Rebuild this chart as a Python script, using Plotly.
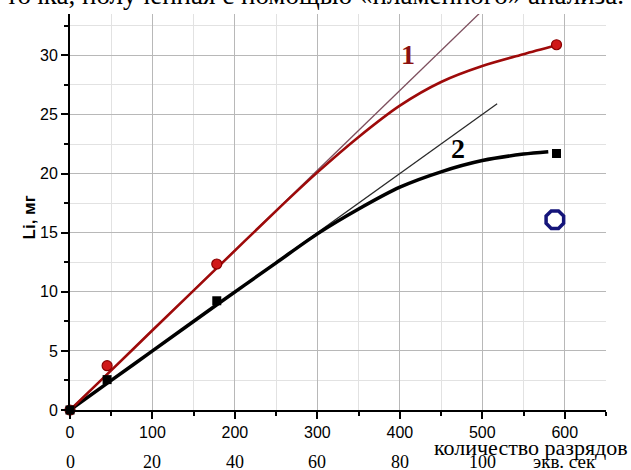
import plotly.graph_objects as go

# measured points
pts_x = [0, 45, 178, 590]
li_1 = [0, 3.75, 12.35, 30.9]
li_2 = [0, 2.57, 9.24, 21.7]

# smooth calibration curves
curve_x1 = [0, 50, 100, 178, 250, 300, 350, 400, 450, 500, 550, 590]
curve_y1 = [0, 3.35, 6.75, 12.0, 16.85, 20.1, 23.1, 25.75, 27.75, 29.1, 30.1, 30.85]
curve_x2 = [0, 50, 100, 178, 250, 300, 350, 400, 450, 500, 550, 580]
curve_y2 = [0, 2.5, 5.0, 8.9, 12.45, 14.9, 17.0, 18.85, 20.15, 21.1, 21.65, 21.85]

# initial-slope tangents
tan1_x = [0, 512]
tan1_y = [0, 34.6]
tan2_x = [0, 518]
tan2_y = [0, 25.9]

# extra point
extra_x = [588]
extra_y = [16.1]

x_ticks = [0, 100, 200, 300, 400, 500, 600]
y_ticks = [0, 5, 10, 15, 20, 25, 30]
sec_vals = [0, 20, 40, 60, 80, 100]
sec_pos = [0, 100, 200, 300, 400, 500]

fig = go.Figure()
fig.add_trace(go.Scatter(x=tan1_x, y=tan1_y, mode="lines",
                         line=dict(color="#7d4f5e", width=1.3), hoverinfo="skip"))
fig.add_trace(go.Scatter(x=tan2_x, y=tan2_y, mode="lines",
                         line=dict(color="#2a2a2a", width=1.3), hoverinfo="skip"))
fig.add_trace(go.Scatter(x=curve_x2, y=curve_y2, mode="lines",
                         line=dict(color="black", width=3.5, shape="spline", smoothing=0.8)))
fig.add_trace(go.Scatter(x=curve_x1, y=curve_y1, mode="lines",
                         line=dict(color="#9e0a0a", width=2.6, shape="spline", smoothing=0.8)))
fig.add_trace(go.Scatter(x=pts_x, y=li_1, mode="markers", cliponaxis=False,
                         marker=dict(symbol="circle", size=10, color="#d01818",
                                     line=dict(color="#8a0000", width=1.2))))
fig.add_trace(go.Scatter(x=pts_x, y=li_2, mode="markers", cliponaxis=False,
                         marker=dict(symbol="square", size=9, color="black")))
fig.add_trace(go.Scatter(x=extra_x, y=extra_y, mode="markers", cliponaxis=False,
                         marker=dict(symbol="octagon-open", size=19, color="#15157a",
                                     line=dict(color="#15157a", width=3.5))))

fig.add_annotation(x=410, y=30.1, text="<b>1</b>", showarrow=False,
                   xanchor="center", yanchor="middle",
                   font=dict(family="Liberation Serif", size=28, color="#8a1010"))
fig.add_annotation(x=470, y=22.1, text="<b>2</b>", showarrow=False,
                   xanchor="center", yanchor="middle",
                   font=dict(family="Liberation Serif", size=28, color="black"))

# page text above (cut off)
fig.add_annotation(xref="paper", yref="paper", x=1.0373, y=1.0476, xanchor="right",
                   yanchor="middle", showarrow=False,
                   text="точка, полученная с помощью «пламенного» анализа.",
                   font=dict(family="Liberation Serif", size=27, color="black"))

# y-axis title
fig.add_annotation(xref="paper", yref="paper", x=-0.0755, y=0.485, textangle=-90,
                   xanchor="center", yanchor="middle",
                   showarrow=False, text="<b>Li, мг</b>",
                   font=dict(family="Liberation Sans", size=17, color="black"))

# x axis caption and secondary scale
fig.add_annotation(xref="x", yref="paper", x=559, y=-0.094, showarrow=False,
                   xanchor="center", yanchor="middle",
                   text="количество разрядов",
                   font=dict(family="Liberation Serif", size=22, color="black"))
for v, p in zip(sec_vals, sec_pos):
    fig.add_annotation(xref="x", yref="paper", x=p, y=-0.131, showarrow=False,
                       xanchor="center", yanchor="middle",
                       text=str(v),
                       font=dict(family="Liberation Serif", size=18, color="black"))
fig.add_annotation(xref="x", yref="paper", x=600, y=-0.131, showarrow=False,
                   xanchor="center", yanchor="middle",
                   text="экв. сек",
                   font=dict(family="Liberation Serif", size=19, color="black"))

axis_common = dict(
    showline=True, linecolor="black", linewidth=2,
    ticks="outside", ticklen=7, tickwidth=1.5, tickcolor="black",
    showgrid=True, gridcolor="#b8b8b8", gridwidth=1.3,
    zeroline=False,
    tickfont=dict(family="Liberation Sans", size=16, color="black"),
)

fig.update_xaxes(range=[0, 650], tickvals=x_ticks, **axis_common,
                 minor=dict(dtick=50, ticks="outside", ticklen=4, tickcolor="black",
                            showgrid=True, gridcolor="#e2e2e2", gridwidth=1))
fig.update_yaxes(range=[0, 33.5], tickvals=y_ticks, **axis_common,
                 minor=dict(dtick=2.5, ticks="outside", ticklen=4, tickcolor="black",
                            showgrid=True, gridcolor="#e2e2e2", gridwidth=1))

fig.update_layout(
    width=631, height=470,
    margin=dict(l=69.5, r=25, t=13.5, b=59.5),
    paper_bgcolor="white", plot_bgcolor="white",
    showlegend=False,
)

fig.write_html("out.html")
